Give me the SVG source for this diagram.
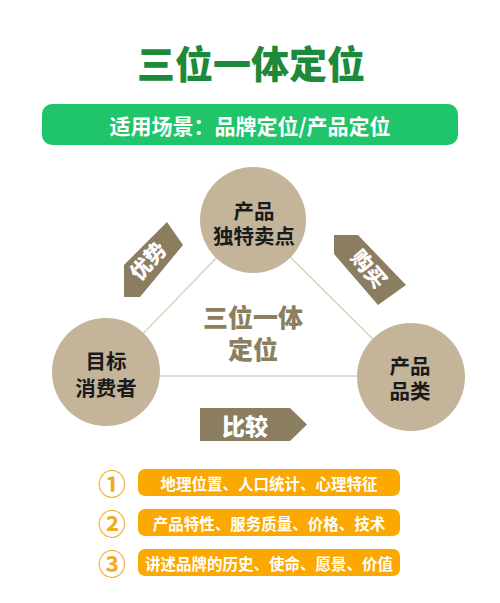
<svg xmlns="http://www.w3.org/2000/svg" width="500" height="603" viewBox="0 0 500 603">
<style>
text{font-family:"Noto Sans CJK SC","Noto Sans",sans-serif;text-anchor:middle;dominant-baseline:central}
.node{fill:#c3b49a}
.nt{font-size:20.5px;font-weight:700;fill:#1a1a1a}
.arrow{fill:#8a7d60}
.at{font-size:21px;font-weight:900;fill:#ffffff}
.bar{fill:#fba800}
.bt{font-size:15.5px;font-weight:700;fill:#ffffff}
.num{font-size:28px;font-weight:700;fill:#f2ab1c}
.link{stroke:#ddd3c1;stroke-width:1.5;fill:none}
</style>
<rect width="500" height="603" fill="#ffffff"/>
<g id="title">
<text x="251" y="61" style="font-size:38px;font-weight:900;fill:#1c8a3a">三位一体定位</text>
</g>
<g id="banner">
<rect x="42" y="104" width="416" height="41" rx="10" fill="#1fc46b"/>
<text x="250" y="125" style="font-size:21px;font-weight:700;fill:#ffffff">适用场景：品牌定位/产品定位</text>
</g>
<g id="connectors">
<line class="link" x1="253" y1="220" x2="106" y2="372"/>
<line class="link" x1="253" y1="220" x2="411" y2="377"/>
<line class="link" x1="106" y1="376" x2="411" y2="376"/>
</g>
<g id="center-label">
<text x="253" y="316" style="font-size:25px;font-weight:900;fill:#8c7f5f">三位一体</text>
<text x="253" y="348" style="font-size:25px;font-weight:900;fill:#8c7f5f">定位</text>
</g>
<g id="node-top">
<circle class="node" cx="253" cy="220" r="53"/>
<text class="nt" x="254" y="210">产品</text>
<text class="nt" x="254" y="234.5">独特卖点</text>
</g>
<g id="node-left">
<circle class="node" cx="106" cy="372" r="54"/>
<text class="nt" x="106" y="360">目标</text>
<text class="nt" x="106" y="387">消费者</text>
</g>
<g id="node-right">
<circle class="node" cx="411" cy="377" r="54"/>
<text class="nt" x="410" y="365">产品</text>
<text class="nt" x="410" y="390">品类</text>
</g>
<g id="arrow-youshi">
<polygon class="arrow" points="167,222 183,245 140,297 124,297 124,265"/>
<text class="at" transform="translate(147,260) rotate(-48)">优势</text>
</g>
<g id="arrow-goumai">
<polygon class="arrow" points="334,235 358,235 406,285 378,305 334,254"/>
<text class="at" transform="translate(370,268) rotate(50)">购买</text>
</g>
<g id="arrow-bijiao">
<polygon class="arrow" points="200,408 290,408 307,424.5 290,441 200,441"/>
<text class="at" x="245" y="424.5" style="font-size:23px">比较</text>
</g>
<g id="item-1">
<text class="num" x="112" y="483">①</text>
<rect class="bar" x="138" y="469" width="262" height="27" rx="7"/>
<text class="bt" x="269" y="482.5">地理位置、人口统计、心理特征</text>
</g>
<g id="item-2">
<text class="num" x="112" y="523">②</text>
<rect class="bar" x="138" y="509" width="262" height="27" rx="7"/>
<text class="bt" x="269" y="522.5">产品特性、服务质量、价格、技术</text>
</g>
<g id="item-3">
<text class="num" x="112" y="563">③</text>
<rect class="bar" x="138" y="549" width="262" height="27" rx="7"/>
<text class="bt" x="269" y="562.5">讲述品牌的历史、使命、愿景、价值</text>
</g>
</svg>
